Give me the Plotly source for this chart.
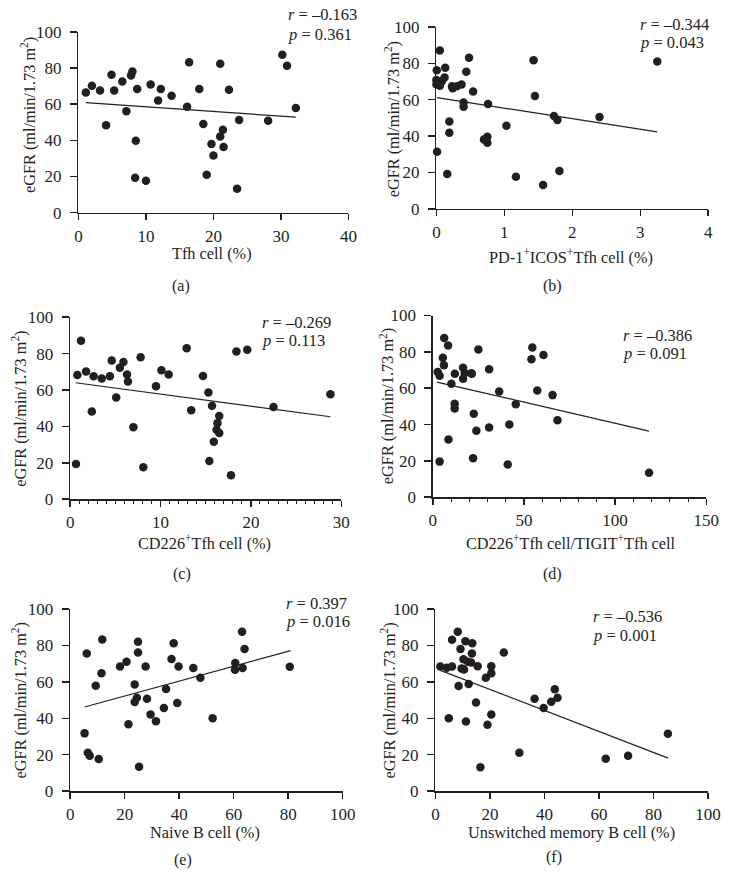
import plotly.graph_objects as go

# ---------------- data ----------------
a_x = [1.1, 2.0, 3.2, 4.1, 4.9, 5.3, 6.5, 7.1, 7.8, 8.0, 8.7, 8.5, 8.4, 10.0, 10.7, 11.8, 12.2, 13.8,
       16.1, 16.4, 17.9, 18.5, 19.0, 19.7, 20.0, 21.0, 21.0, 21.4, 21.5, 22.3, 23.5, 23.8, 28.1, 30.2, 30.9, 32.2]
a_y = [66.4, 70.2, 67.6, 48.3, 76.3, 67.6, 72.5, 56.1, 75.9, 78.1, 68.4, 39.8, 19.3, 17.7, 70.9, 62.0, 68.4, 64.7,
       58.6, 83.2, 68.4, 49.0, 21.0, 38.0, 31.6, 82.3, 42.1, 45.8, 36.3, 68.0, 13.2, 51.2, 50.8, 87.3, 81.2, 57.9]
a_fit_x = [1.1, 32.2]
a_fit_y = [60.8, 52.8]

b_x = [0.005, 0.0, 0.0, 0.01, 0.05, 0.05, 0.08, 0.13, 0.12, 0.16, 0.19, 0.19, 0.23, 0.24, 0.30, 0.37, 0.40, 0.40,
       0.44, 0.48, 0.54, 0.70, 0.75, 0.75, 0.76, 1.03, 1.17, 1.43, 1.45, 1.57, 1.73, 1.78, 1.81, 2.40, 3.25, 0.03]
b_y = [76.2, 70.8, 68.3, 31.4, 87.1, 67.6, 70.1, 77.6, 72.2, 19.2, 48.0, 41.8, 67.4, 66.3, 67.4, 68.3, 58.4, 56.1,
       75.3, 83.0, 64.5, 38.2, 39.6, 36.4, 57.7, 45.7, 17.6, 81.7, 62.0, 13.1, 51.1, 48.9, 20.8, 50.5, 81.0, 69.5]
b_fit_x = [0.01, 3.25]
b_fit_y = [61.1, 42.3]

c_x = [0.65, 0.8, 1.2, 1.76, 2.4, 2.6, 3.5, 4.4, 4.6, 5.1, 5.5, 5.9, 6.3, 6.4, 7.0, 7.8, 8.1, 9.5,
       10.1, 10.9, 12.9, 13.4, 14.7, 15.3, 15.4, 15.7, 15.9, 16.2, 16.3, 16.5, 16.5, 17.8, 18.4, 19.6, 22.5, 28.8]
c_y = [19.4, 68.3, 87.1, 70.1, 48.2, 67.6, 66.3, 67.6, 76.2, 55.9, 72.2, 75.4, 68.5, 64.7, 39.6, 78.0, 17.6, 62.0,
       70.8, 68.5, 83.0, 48.9, 67.7, 58.6, 21.0, 51.3, 31.5, 38.2, 41.8, 45.7, 36.4, 13.1, 81.2, 82.1, 50.7, 57.7]
c_fit_x = [0.6, 28.8]
c_fit_y = [64.0, 45.3]

d_x = [2.7, 3.75, 3.75, 5.5, 6.1, 6.25, 8.4, 8.6, 10.2, 12.1, 12.0, 12.0, 16.6, 16.6, 17.5, 21.1, 21.4,
       22.1, 22.5, 23.9, 25.0, 30.9, 30.9, 36.4, 41.1, 42.0, 45.5, 54.1, 54.6, 57.3, 60.7, 65.7, 68.4, 118.6]
d_y = [68.9, 66.8, 19.6, 76.7, 72.7, 87.6, 83.5, 31.8, 62.5, 67.9, 51.5, 48.8, 71.3, 65.2, 68.4, 68.2, 67.9,
       21.4, 46.0, 36.6, 81.3, 70.4, 38.4, 58.2, 18.0, 40.0, 51.2, 75.9, 82.4, 58.7, 78.3, 56.2, 42.4, 13.5]
d_fit_x = [2.3, 118.6]
d_fit_y = [63.4, 36.4]

e_x = [5.3, 6.1, 6.5, 7.2, 9.4, 10.5, 11.5, 11.8, 18.3, 20.7, 21.4, 23.7, 23.7, 24.5, 24.9, 24.9, 25.3, 27.7,
       28.2, 29.5, 31.5, 34.4, 35.2, 37.2, 38.0, 39.3, 39.8, 45.2, 47.8, 52.3, 60.6, 60.5, 63.1, 63.3, 64.0, 80.6]
e_y = [31.7, 75.6, 21.1, 19.4, 57.9, 17.6, 64.7, 83.3, 68.5, 71.0, 36.7, 58.6, 48.9, 51.3, 76.2, 82.1, 13.3, 68.5,
       50.7, 42.1, 38.4, 45.7, 56.1, 72.6, 81.2, 48.4, 68.5, 67.6, 62.2, 40.0, 70.3, 66.7, 87.5, 67.6, 78.1, 68.3]
e_fit_x = [5.3, 80.9]
e_fit_y = [46.2, 77.2]

f_x = [1.8, 4.2, 4.9, 6.1, 6.1, 8.2, 8.5, 9.2, 9.6, 10.3, 10.5, 11.0, 11.2, 11.9, 12.2, 13.5, 13.4, 13.1,
       14.9, 15.5, 16.5, 18.5, 19.1, 20.5, 20.5, 20.5, 25.1, 30.8, 36.4, 39.7, 42.5, 43.8, 44.8, 62.5, 70.7, 85.3]
f_y = [68.5, 67.7, 40.0, 68.5, 83.2, 87.5, 57.7, 78.1, 67.4, 72.4, 66.8, 82.3, 38.2, 71.0, 58.8, 81.2, 75.6, 70.6,
       48.6, 68.6, 13.1, 62.2, 36.4, 68.6, 64.7, 42.1, 76.2, 21.1, 50.7, 45.7, 49.1, 55.9, 51.3, 17.7, 19.4, 31.5]
f_fit_x = [1.8, 85.4]
f_fit_y = [66.3, 18.1]

r_text = ["–0.163", "–0.344", "–0.269", "–0.386", "0.397", "–0.536"]
p_text = ["0.361", "0.043", "0.113", "0.091", "0.016", "0.001"]
x_titles = ["Tfh cell (%)", "PD-1<sup>+</sup>ICOS<sup>+</sup>Tfh cell (%)", "CD226<sup>+</sup>Tfh cell (%)",
            "CD226<sup>+</sup>Tfh cell/TIGIT<sup>+</sup>Tfh cell", "Naive B cell (%)", "Unswitched memory B cell (%)"]
y_title = "eGFR (ml/min/1.73 m<sup>2</sup>)"
panel_labels = ["(a)", "(b)", "(c)", "(d)", "(e)", "(f)"]
x_ranges = [[0, 40], [0, 4], [0, 30], [0, 150], [0, 100], [0, 100]]
x_dticks = [10, 1, 10, 50, 20, 20]
x_minor = [None, None, 1, 10, None, None]
y_range = [0, 100]
y_dtick = 20

xs = [a_x, b_x, c_x, d_x, e_x, f_x]
ys = [a_y, b_y, c_y, d_y, e_y, f_y]
fxs = [a_fit_x, b_fit_x, c_fit_x, d_fit_x, e_fit_x, f_fit_x]
fys = [a_fit_y, b_fit_y, c_fit_y, d_fit_y, e_fit_y, f_fit_y]

# ---------------- layout (pixel geometry) ----------------
W, H = 731, 881
# plot area: x0, x1, ytop, ybottom (px)
boxes = [(76.2, 352.7, 23.3, 208.2), (442.7, 721, 18.3, 204.3),
         (67.7, 345.3, 315, 501), (439, 719, 313.3, 499),
         (67.7, 346.7, 613.3, 799.3), (441.7, 720.7, 613.3, 799.3)]
# annotation positions (px)
rp_pos = [(290, 6, 26), (650, 16, 34), (263, 320.5, 339), (633, 334, 352), (288, 608, 626), (602, 621, 640)]
xt_pos = [(213, 250), (581, 253), (205, 545), (580, 545), (206, 842), (581, 842)]
yt_pos = [(25, 108), (398, 113), (16, 409), (392, 406), (16, 707), (394, 707)]
pl_pos = [(181, 283), (562, 283), (182, 577), (562, 577), (183, 870), (563, 867)]

FONT = "Liberation Serif"
INK = "#231f20"
FS_TICK = 17
FS_RP = 16.5
FS_TITLE = 16.3
FS_LABEL = 16
fig = go.Figure()
layout = dict(width=W, height=H, margin=dict(l=0, r=0, t=0, b=0),
              paper_bgcolor="white", plot_bgcolor="white", showlegend=False,
              font=dict(family=FONT, size=FS_TITLE, color=INK))
annotations = []

def px2x(p):
    return p / W

def px2y(p):
    return 1 - p / H

def ann(text, x, y, size, xanchor="center", angle=0):
    return dict(text=text, x=px2x(x), y=px2y(y), xref="paper", yref="paper", textangle=angle,
                xanchor=xanchor, yanchor="middle", showarrow=False, borderpad=0,
                font=dict(family=FONT, size=size, color=INK))

for i in range(6):
    n = "" if i == 0 else str(i + 1)
    x0, x1, yt, yb = boxes[i]
    fig.add_trace(go.Scatter(x=xs[i], y=ys[i], mode="markers", xaxis="x" + n, yaxis="y" + n,
                             marker=dict(size=8.5, color=INK), cliponaxis=False, hoverinfo="skip"))
    fig.add_trace(go.Scatter(x=fxs[i], y=fys[i], mode="lines", xaxis="x" + n, yaxis="y" + n,
                             line=dict(color=INK, width=1.2), cliponaxis=False, hoverinfo="skip"))
    xa = dict(domain=[px2x(x0), px2x(x1)], range=x_ranges[i], dtick=x_dticks[i], tick0=0,
              anchor="y" + n, showline=True, linecolor=INK, linewidth=1.5, ticks="outside",
              ticklen=6, tickwidth=1.5, tickcolor=INK, showgrid=False, zeroline=False,
              ticklabelstandoff=1, tickfont=dict(family=FONT, size=FS_TICK, color=INK))
    if x_minor[i]:
        xa["minor"] = dict(dtick=x_minor[i], ticks="outside", ticklen=3.5, tickwidth=1, tickcolor=INK, showgrid=False)
    ya = dict(domain=[px2y(yb), px2y(yt)], range=y_range, dtick=y_dtick, tick0=0,
              anchor="x" + n, showline=True, linecolor=INK, linewidth=1.5, ticks="outside",
              ticklen=7, tickwidth=1.5, tickcolor=INK, showgrid=False, zeroline=False,
              ticklabelstandoff=5, tickfont=dict(family=FONT, size=FS_TICK, color=INK))
    layout["xaxis" + n] = xa
    layout["yaxis" + n] = ya

    rx, ry, py = rp_pos[i]
    annotations.append(ann("<i>r</i> = " + r_text[i], rx, ry, FS_RP, "left"))
    annotations.append(ann("<i>p</i> = " + p_text[i], rx, py, FS_RP, "left"))
    tx, ty = xt_pos[i]
    annotations.append(ann(x_titles[i], tx, ty, FS_TITLE))
    tx, ty = yt_pos[i]
    annotations.append(ann(y_title, tx, ty, FS_TITLE, angle=-90))
    tx, ty = pl_pos[i]
    annotations.append(ann(panel_labels[i], tx, ty, FS_LABEL))

layout["annotations"] = annotations
fig.update_layout(**layout)
fig.write_html("out.html", config={"displayModeBar": False, "staticPlot": True},
               post_script="document.body.style.margin='0';document.body.style.overflow='hidden';")
